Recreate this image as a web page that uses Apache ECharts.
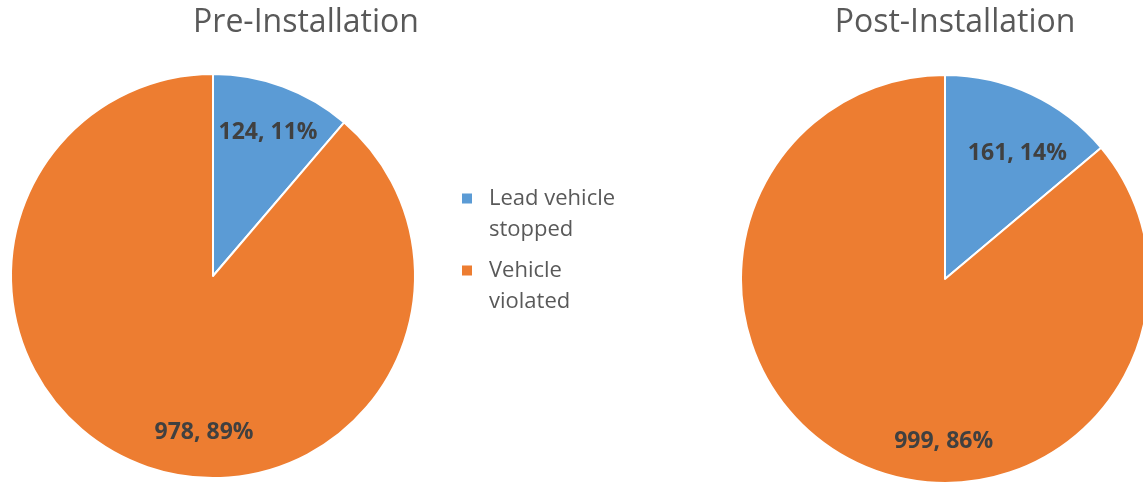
<!DOCTYPE html>
<html>
<head>
<meta charset="utf-8">
<script src="https://cdn.jsdelivr.net/npm/echarts@6/dist/echarts.min.js"></script>
<style>
  html, body { margin: 0; padding: 0; background: #fff; }
  #pieChart { width: 1143px; height: 485px; }
</style>
</head>
<body>
<div id="pieChart"></div>
<script>
// categories and values
var categories = ['Lead vehicle stopped', 'Vehicle violated']
var preValues = [124, 978]
var postValues = [161, 999]
var titles = ['Pre-Installation', 'Post-Installation']
var colors = ['#5B9BD5', '#ED7D31']

// legend wraps each name on two lines
var legendNames = {
  'Lead vehicle stopped': 'Lead vehicle\nstopped',
  'Vehicle violated': 'Vehicle\nviolated'
}

// nudge of the inside labels (Excel "best fit" spots), per series / slice
var labelShift = [
  [[19, -46], [27, 59]],
  [[28, -30], [43, 67]]
]

function toData(values) {
  return categories.map(function (name, i) {
    return { name: name, value: values[i] }
  })
}

function pieSeries(idx, values, center, radius) {
  return {
    type: 'pie',
    center: center,
    radius: radius,
    startAngle: 90,
    clockwise: true,
    animation: false,
    itemStyle: { borderColor: '#fff', borderWidth: 2 },
    emphasis: { disabled: true },
    label: {
      show: true,
      position: 'inside',
      formatter: function (p) {
        return p.value + ', ' + Math.round(p.percent) + '%'
      },
      color: '#404040',
      fontFamily: 'Open Sans',
      fontWeight: 'bold',
      fontSize: 23
    },
    labelLayout: function (p) {
      var s = labelShift[idx][p.dataIndex]
      return { dx: s[0], dy: s[1] }
    },
    labelLine: { show: false },
    data: toData(values)
  }
}

var titleStyle = { color: '#595959', fontFamily: 'Open Sans', fontWeight: 'normal', fontSize: 32 }

var myChart = echarts.init(document.getElementById('pieChart'))
var options = {
  backgroundColor: '#FFF',
  color: colors,
  title: [
    { text: titles[0], left: 301, top: 2, textAlign: 'center', textStyle: titleStyle },
    { text: titles[1], left: 950, top: 2, textAlign: 'center', textStyle: titleStyle }
  ],
  legend: {
    orient: 'vertical',
    left: 457,
    top: 178,
    // square sits at the top of a tall icon box so it lines up with the first text line
    icon: 'path://M0,0h10v10h-10z M0,41h10',
    itemWidth: 10,
    itemHeight: 41,
    itemGap: 10,
    itemStyle: { borderWidth: 0 },
    selectedMode: false,
    formatter: function (name) { return legendNames[name] },
    textStyle: {
      color: '#595959',
      fontFamily: 'Open Sans',
      fontSize: 22,
      lineHeight: 31,
      padding: [0, 0, 0, 12]
    },
    data: categories
  },
  series: [
    pieSeries(0, preValues, [213, 276], 202),
    pieSeries(1, postValues, [945, 279], 204)
  ]
}
myChart.setOption(options)
</script>
</body>
</html>
